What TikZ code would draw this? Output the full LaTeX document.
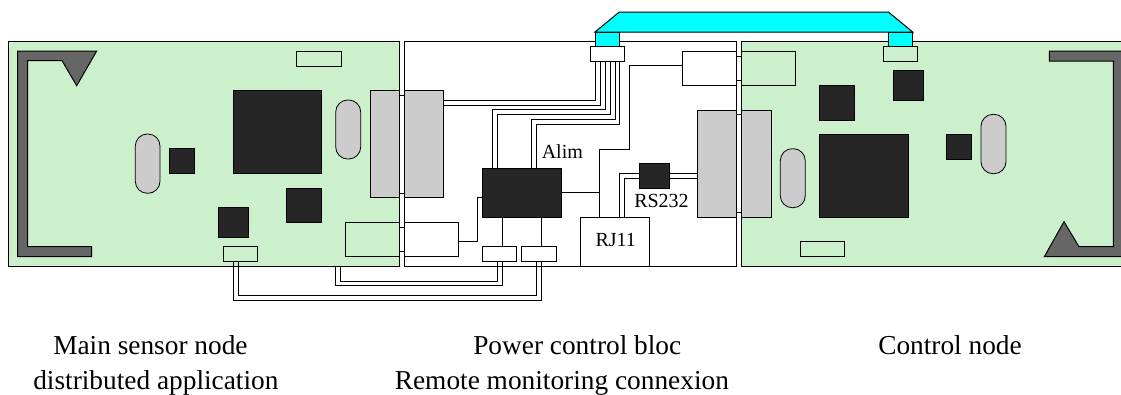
\documentclass[tikz,border=0pt]{standalone}
\usepackage{fontspec}
\setmainfont{Liberation Serif}
\definecolor{board}{HTML}{CCF0CC}
\definecolor{chipc}{HTML}{262626}
\definecolor{greyc}{HTML}{CCCCCC}
\definecolor{brk}{HTML}{666666}
\definecolor{cab}{RGB}{0,255,255}
\newcommand{\bx}[6]{%
  \pgfmathsetmacro{\bxw}{(#5-#3)*.75}%
  \pgfmathsetmacro{\bxh}{(#6-#4)*.75}%
  \pgfmathsetmacro{\bxx}{(#3+#5)/2}%
  \pgfmathsetmacro{\bxy}{(#4+#6)/2}%
  \node[boxbase,#1,minimum width=\bxw pt,minimum height=\bxh pt] (#2) at (\bxx,\bxy) {};}
\tikzset{
  boxbase/.style={draw=black,line width=.75pt,inner sep=0pt,outer sep=0pt},
  plain/.style={fill=white},
  boardbox/.style={fill=board},
  chip/.style={fill=chipc},
  conn/.style={fill=greyc},
  pill/.style={fill=greyc,rounded corners=9pt,line width=.6pt},
  cyanbox/.style={fill=cab},
  wire/.style={draw=black,line width=.75pt},
  outline/.style={draw=black,fill=brk,line width=.75pt,line join=miter},
  lab/.style={anchor=base west,inner sep=0pt,font=\fontsize{15}{15}\selectfont},
  captext/.style={anchor=base west,inner sep=0pt,font=\fontsize{20.5}{20.5}\selectfont}
}
\begin{document}
\begin{tikzpicture}[x=.75pt,y=-.75pt]
\useasboundingbox (0,0) rectangle (1121,394);
\clip (0,0) rectangle (1121,394);
% panels
\bx{boardbox}{bL}{8}{41.5}{399.5}{266}
\bx{plain}{bM}{404}{41.5}{736.7}{266}
\bx{boardbox}{bR}{741.5}{41.5}{1130}{266}
% brackets
\draw[outline] (17.7,51) -- (96.7,51) -- (76.7,85.7) -- (62,60.7) -- (27.7,60.7) -- (27.7,246.7) -- (91.7,246.7) -- (91.7,256.7) -- (17.7,256.7) -- cycle;
\draw[outline] (1049.3,51) -- (1130,51) -- (1130,256.7) -- (1044.3,256.7) -- (1064,221.7) -- (1079,246.7) -- (1113.3,246.7) -- (1113.3,61) -- (1049.3,61) -- cycle;
% left board
\bx{chip}{chipA}{233}{90}{321.7}{173.3}
\bx{chip}{chipB}{286.7}{188}{321.7}{222.3}
\bx{chip}{chipC}{218.3}{207.3}{248}{237.3}
\bx{chip}{chipD}{169.3}{148.7}{194.3}{173.7}
\bx{pill}{pillA}{135.3}{134}{160}{193.3}
\bx{pill}{pillB}{335.7}{100}{360.7}{159}
\bx{boardbox}{tagA}{296.3}{51}{341}{66}
\bx{boardbox}{tagB}{223.3}{246.7}{257.7}{261.7}
% right board
\bx{chip}{chipE}{819.7}{85}{854.7}{120}
\bx{chip}{chipF}{893}{70.3}{923}{100.7}
\bx{chip}{chipG}{819.3}{134}{908.3}{217.3}
\bx{chip}{chipH}{946.7}{134}{971.7}{159}
\bx{pill}{pillC}{780.3}{148.7}{805.3}{207.7}
\bx{pill}{pillD}{981}{114.3}{1006}{173.7}
\bx{boardbox}{tagC}{800}{241.7}{844.7}{256.7}
% board-to-board connectors
\bx{plain}{brA}{399.5}{95}{404}{193.3}
\bx{plain}{brB}{399.5}{227.3}{404}{251.7}
\bx{plain}{brC}{736.7}{114.3}{741.5}{212.3}
\bx{plain}{brD}{736.7}{56.7}{741.5}{80.3}
\bx{conn}{gA}{370}{90}{399.5}{197.7}
\bx{conn}{gB}{404}{90}{443.3}{197.7}
\bx{conn}{gC}{697.3}{110}{736.7}{217.3}
\bx{conn}{gD}{741.5}{110}{771}{217.3}
\bx{boardbox}{sA}{345.3}{222.3}{399.5}{256.7}
\bx{plain}{sB}{404}{222.3}{458.3}{256.7}
\bx{plain}{sC}{682.7}{51}{736.7}{85.3}
\bx{boardbox}{sD}{741.5}{51}{795.7}{85.3}
% middle blocks
\bx{chip}{alim}{482.3}{168.3}{561}{217.7}
\bx{plain}{pA}{482.3}{246.7}{516.7}{261.7}
\bx{plain}{pB}{521.3}{246.7}{556}{261.7}
\bx{chip}{rs}{639}{163.3}{669}{188.3}
\bx{plain}{rj}{580.3}{217.3}{649}{266}
% cable
\bx{cyanbox}{stL}{595}{32}{619.3}{46}
\bx{cyanbox}{stR}{888.3}{32}{912.7}{46}
\bx{plain}{cnL}{590}{46}{624.3}{61}
\bx{boardbox}{cnR}{883.3}{46}{917.7}{61}
\coordinate (cabA) at (619.3,12);
\coordinate (cabB) at (888.3,12);
\draw[black,fill=cab,line width=.75pt] (stL.north west) -- (cabA) -- (cabB) -- (stR.north east) -- cycle;
% waypoints
\coordinate (w1) at (595,100);
\coordinate (w2) at (600,105);
\coordinate (w3) at (605,109.7);
\coordinate (w3b) at (492.3,109.7);
\coordinate (w4) at (610,114.7);
\coordinate (w4b) at (497.3,114.7);
\coordinate (w5) at (615,119.3);
\coordinate (w5b) at (531.7,119.3);
\coordinate (w6) at (619.3,124.3);
\coordinate (w6b) at (536.7,124.3);
\coordinate (p1) at (629.3,65.7);
\coordinate (p2) at (629.3,149);
\coordinate (p3) at (599.3,149);
\coordinate (p4) at (599.3,192.7);
\coordinate (q1) at (477.7,197.7);
\coordinate (q2) at (477.7,241.7);
\coordinate (c1) at (502,232);
\coordinate (c2) at (541,232);
\coordinate (r1) at (497.3,281);
\coordinate (r1b) at (340.7,281);
\coordinate (r2) at (502,285.7);
\coordinate (r2b) at (335.7,285.7);
\coordinate (t1) at (536.7,295.7);
\coordinate (t1b) at (238,295.7);
\coordinate (t2) at (541.3,300.3);
\coordinate (t2b) at (233,300.3);
\coordinate (u1) at (619.3,173.3);
\coordinate (u2) at (624.3,178.3);
% wires
\draw[wire] (cnL.south -| w1) -- (w1) -- (w1 -| gB.east);
\draw[wire] (cnL.south -| w2) -- (w2) -- (w2 -| gB.east);
\draw[wire] (cnL.south -| w3) -- (w3) -- (w3b) -- (alim.north -| w3b);
\draw[wire] (cnL.south -| w4) -- (w4) -- (w4b) -- (alim.north -| w4b);
\draw[wire] (cnL.south -| w5) -- (w5) -- (w5b) -- (alim.north -| w5b);
\draw[wire] (cnL.south -| w6) -- (w6) -- (w6b) -- (alim.north -| w6b);
\draw[wire] (sC.west |- p1) -- (p1) -- (p2) -- (p3) -- (rj.north -| p3);
\draw[wire] (alim.east |- p4) -- (p4);
\draw[wire] (alim.west |- q1) -- (q1) -- (q2) -- (sB.east |- q2);
\draw[wire] (alim.south -| c1) -- (pA.north -| c1);
\draw[wire] (alim.south -| c2) -- (pB.north -| c2);
\draw[wire] (pA.south -| r1) -- (r1) -- (r1b) -- (bL.south -| r1b);
\draw[wire] (pA.south -| r2) -- (r2) -- (r2b) -- (bL.south -| r2b);
\draw[wire] (pB.south -| t1) -- (t1) -- (t1b) -- (tagB.south -| t1b);
\draw[wire] (pB.south -| t2) -- (t2) -- (t2b) -- (tagB.south -| t2b);
\draw[wire] (gC.west |- u1) -- (rs.east |- u1);
\draw[wire] (gC.west |- u2) -- (rs.east |- u2);
\draw[wire] (rs.west |- u1) -- (u1) -- (rj.north -| u1);
\draw[wire] (rs.west |- u2) -- (u2) -- (rj.north -| u2);
% labels
\node[lab] (tAlim) at (541.5,158.3) {Alim};
\node[lab] (tRs) at (634,207.3) {RS232};
\node[lab] (tRj) at (595.3,246.7) {RJ11};
\node[captext] (tMain) at (53,354.3) {Main sensor node};
\node[captext] (tDist) at (33,389) {distributed application};
\node[captext] (tPow) at (473,354.3) {Power control bloc};
\node[captext] (tRem) at (394.6,389) {Remote monitoring connexion};
\node[captext] (tCtl) at (878,354.3) {Control node};
\end{tikzpicture}
\end{document}
